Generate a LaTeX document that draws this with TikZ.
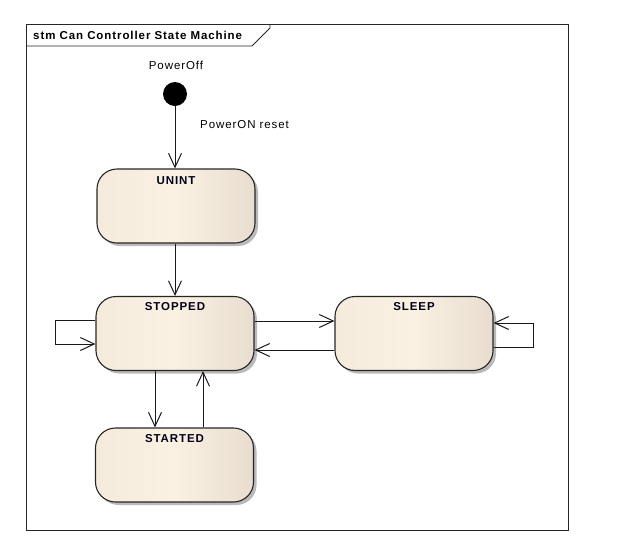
\documentclass[tikz,border=0pt]{standalone}
\usepackage{fontspec}
\setmainfont{Liberation Sans}
\usetikzlibrary{arrows.meta,shadows}
\definecolor{stL}{HTML}{F5EBDC}
\definecolor{stM}{HTML}{FAF1E3}
\definecolor{stR}{HTML}{E8DDCE}
\newfontfamily\diafont[LetterSpace=8]{Liberation Sans}
\tikzset{
  statebox/.style={draw=black!85, line width=1.1pt, rounded corners=20pt,
    minimum width=158pt, minimum height=74pt, inner sep=0pt,
    left color=stL, right color=stR, middle color=stM,
    drop shadow={shadow xshift=3pt, shadow yshift=-3pt, fill=black!45, opacity=0.6}},
  statename/.style={font=\diafont\fontsize{11.5}{13}\selectfont\bfseries, text=black!90!blue, inner sep=0pt},
  arr/.style={line width=1pt, draw=black!90, -{Straight Barb[length=14pt,width=13pt,line width=1pt]}},
  plain/.style={font=\diafont\fontsize{11.5}{13}\selectfont, inner sep=0pt},
}
\begin{document}
\begin{tikzpicture}[x=1pt,y=-1pt]
\useasboundingbox (0,0) rectangle (643,558);
% frame
\draw[line width=0.9pt, black!85] (26,24) rectangle (568,530);
\draw[line width=0.9pt, black!85] (26,46) -- (252,46) -- (270,28) -- (270,24);
\node[anchor=west, inner sep=0pt, font=\diafont\fontsize{11.5}{13}\selectfont\bfseries] (title) at (33,35) {stm Can Controller State Machine};
% initial
\node[circle, fill=black, minimum size=24pt, inner sep=0pt] (init) at (175,94) {};
\node[plain] (poff) at (176,65) {PowerOff};
% states
\node[statebox] (unint) at (176,206) {};
\node[statename] (unintl) at (176,181) {UNINT};
\node[statebox] (stopped) at (175,333.5) {};
\node[statename] (stoppedl) at (175,307) {STOPPED};
\node[statebox] (sleep) at (414,333.5) {};
\node[statename] (sleepl) at (414,307) {SLEEP};
\node[statebox] (started) at (174.5,465) {};
\node[statename] (startedl) at (174.5,439) {STARTED};
% transitions
\draw[arr] (init) -- (unint.north -| init);
\node[plain, anchor=west] (pon) at (200,125) {PowerON reset};
\draw[arr] (unint.south -| 175,0) -- (stopped.north -| 175,0);
\draw[arr] (stopped.east |- 0,321) -- (sleep.west |- 0,321);
\draw[arr] (sleep.west |- 0,350) -- (stopped.east |- 0,350);
\draw[arr] (stopped.west |- 0,320) -- (55,320) -- (55,344) -- (stopped.west |- 0,344);
\draw[arr] (sleep.east |- 0,347) -- (533,347) -- (533,323) -- (sleep.east |- 0,323);
\draw[arr] (stopped.south -| 155,0) -- (started.north -| 155,0);
\draw[arr] (started.north -| 203,0) -- (stopped.south -| 203,0);
\end{tikzpicture}
\end{document}
